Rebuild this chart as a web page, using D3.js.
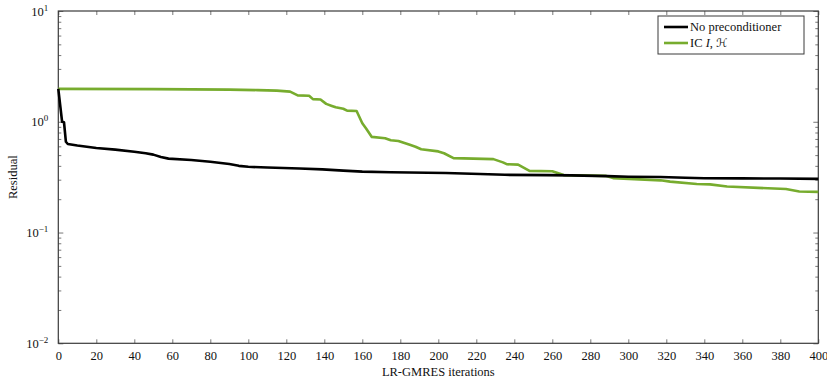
<!DOCTYPE html>
<html>
<head>
<meta charset="utf-8">
<script src="https://cdn.jsdelivr.net/npm/d3@7/dist/d3.min.js"></script>
<style>
  html, body { margin: 0; padding: 0; background: #fff; }
  svg text { font-family: "Liberation Serif", "DejaVu Serif", serif; }
  svg text .script { font-family: "DejaVu Serif", "DejaVu Sans", serif; }
</style>
</head>
<body>
<svg id="chart" width="827" height="382"></svg>
<script>
// Residual history for each solver run
const plainIters = [0, 2, 3, 4, 5, 10, 20, 30, 40, 46, 50, 54, 58, 70, 80, 90, 95, 100, 110, 127, 139, 150, 160, 175, 204, 222, 235, 257, 270, 289, 300, 317, 330, 340, 360, 380, 400];
const plainResidual = [1.98, 1.0, 0.99, 0.66, 0.63, 0.61, 0.58, 0.56, 0.537, 0.52, 0.505, 0.48, 0.465, 0.452, 0.435, 0.415, 0.40, 0.392, 0.386, 0.379, 0.372, 0.362, 0.355, 0.35, 0.345, 0.338, 0.332, 0.33, 0.328, 0.323, 0.319, 0.317, 0.312, 0.309, 0.308, 0.307, 0.305];

const icIters = [0, 50, 90, 105, 115, 122, 126, 132, 134, 138, 141, 144, 146, 150, 152, 157, 160, 162, 165, 172, 175, 179, 185, 188, 191, 200, 203, 208, 229, 234, 236, 242, 248, 260, 266, 288, 292, 317, 322, 336, 343, 352, 383, 390, 400];
const icResidual = [1.98, 1.97, 1.95, 1.93, 1.91, 1.87, 1.73, 1.72, 1.60, 1.59, 1.45, 1.39, 1.35, 1.31, 1.26, 1.25, 0.97, 0.87, 0.73, 0.71, 0.68, 0.67, 0.62, 0.595, 0.565, 0.54, 0.52, 0.47, 0.46, 0.43, 0.414, 0.41, 0.36, 0.358, 0.33, 0.325, 0.31, 0.296, 0.288, 0.274, 0.272, 0.26, 0.247, 0.235, 0.233];

const xTicks = [0, 20, 40, 60, 80, 100, 120, 140, 160, 180, 200, 220, 240, 260, 280, 300, 320, 340, 360, 380, 400];
const yDecades = [-2, -1, 0, 1];

const seriesNames = ["No preconditioner", "IC"];
const seriesColors = ["#000000", "#77ac2e"];

const svg = d3.select("#chart");
const m = { left: 58.3, right: 818.3, top: 11, bottom: 343.3 };

const x = d3.scaleLinear().domain([0, 400]).range([m.left, m.right]);
const y = d3.scaleLog().domain([0.01, 10]).range([m.bottom, m.top]);

const frameColor = "#3a3a3a";

// minor ticks for the log axis
const minor = [];
for (let d = -2; d < 1; d++) for (let k = 2; k <= 9; k++) minor.push(k * Math.pow(10, d));

const g = svg.append("g");

// bottom axis ticks (inward) and labels
const bottom = d3.axisBottom(x).tickValues(xTicks).tickSize(-4).tickPadding(8).tickFormat(d3.format("d"));
const gb = g.append("g").attr("transform", `translate(0,${m.bottom})`).call(bottom);
// top axis ticks only
const gt = g.append("g").attr("transform", `translate(0,${m.top})`)
  .call(d3.axisTop(x).tickValues(xTicks).tickSize(-4).tickFormat(""));
// left/right decade + minor ticks
const gl = g.append("g").attr("transform", `translate(${m.left},0)`)
  .call(d3.axisLeft(y).tickValues(yDecades.map(e => Math.pow(10, e))).tickSize(-5).tickFormat(""));
const glm = g.append("g").attr("transform", `translate(${m.left},0)`)
  .call(d3.axisLeft(y).tickValues(minor).tickSize(-3).tickFormat(""));
const gr = g.append("g").attr("transform", `translate(${m.right},0)`)
  .call(d3.axisRight(y).tickValues(yDecades.map(e => Math.pow(10, e))).tickSize(-5).tickFormat(""));
const grm = g.append("g").attr("transform", `translate(${m.right},0)`)
  .call(d3.axisRight(y).tickValues(minor).tickSize(-3).tickFormat(""));

[gb, gt, gl, glm, gr, grm].forEach(a => {
  a.select(".domain").remove();
  a.selectAll(".tick line").attr("stroke", "#555").attr("stroke-width", 0.8);
});
gb.selectAll(".tick text").attr("font-size", 12.5).attr("fill", "#111");

// y decade labels as 10^e
yDecades.forEach(e => {
  const t = g.append("text")
    .attr("x", m.left - 10)
    .attr("y", y(Math.pow(10, e)) + 4.5)
    .attr("text-anchor", "end")
    .attr("font-size", 12.5)
    .attr("fill", "#111");
  t.append("tspan").text("10");
  t.append("tspan").attr("dy", -5).attr("font-size", 9).text(e < 0 ? "\u2212" + (-e) : String(e));
});

// plot frame
g.append("rect")
  .attr("x", m.left).attr("y", m.top)
  .attr("width", m.right - m.left).attr("height", m.bottom - m.top)
  .attr("fill", "none").attr("stroke", frameColor).attr("stroke-width", 1.2);

// curves
const line = d3.line().x(d => x(d[0])).y(d => y(d[1]));
const plainData = plainIters.map((it, i) => [it, plainResidual[i]]);
const icData = icIters.map((it, i) => [it, icResidual[i]]);

g.append("path").datum(icData).attr("d", line)
  .attr("fill", "none").attr("stroke", seriesColors[1]).attr("stroke-width", 2.6)
  .attr("stroke-linejoin", "round");
g.append("path").datum(plainData).attr("d", line)
  .attr("fill", "none").attr("stroke", seriesColors[0]).attr("stroke-width", 2.6)
  .attr("stroke-linejoin", "round");

// axis titles
g.append("text").attr("x", (m.left + m.right) / 2).attr("y", 376)
  .attr("text-anchor", "middle").attr("font-size", 12.5).attr("fill", "#111")
  .text("LR-GMRES iterations");
g.append("text")
  .attr("transform", `translate(17,${(m.top + m.bottom) / 2}) rotate(-90)`)
  .attr("text-anchor", "middle").attr("font-size", 12.5).attr("fill", "#111")
  .text("Residual");

// legend
const lg = g.append("g").attr("transform", "translate(658,16)");
lg.append("rect").attr("width", 146).attr("height", 38)
  .attr("fill", "#fff").attr("stroke", frameColor).attr("stroke-width", 1);
seriesNames.forEach((name, i) => {
  const yy = 11 + i * 16;
  lg.append("line").attr("x1", 6).attr("x2", 30).attr("y1", yy).attr("y2", yy)
    .attr("stroke", seriesColors[i]).attr("stroke-width", 2.6);
  const t = lg.append("text").attr("x", 32).attr("y", yy + 4.3)
    .attr("font-size", 12.5).attr("fill", "#111");
  t.append("tspan").text(name);
  if (i === 1) {
    t.append("tspan").text(" ");
    t.append("tspan").attr("font-style", "italic").text("I");
    t.append("tspan").text(", ");
    t.append("tspan").attr("class", "script").attr("font-size", 11.5).text("\u210B");
  }
});
</script>
</body>
</html>
